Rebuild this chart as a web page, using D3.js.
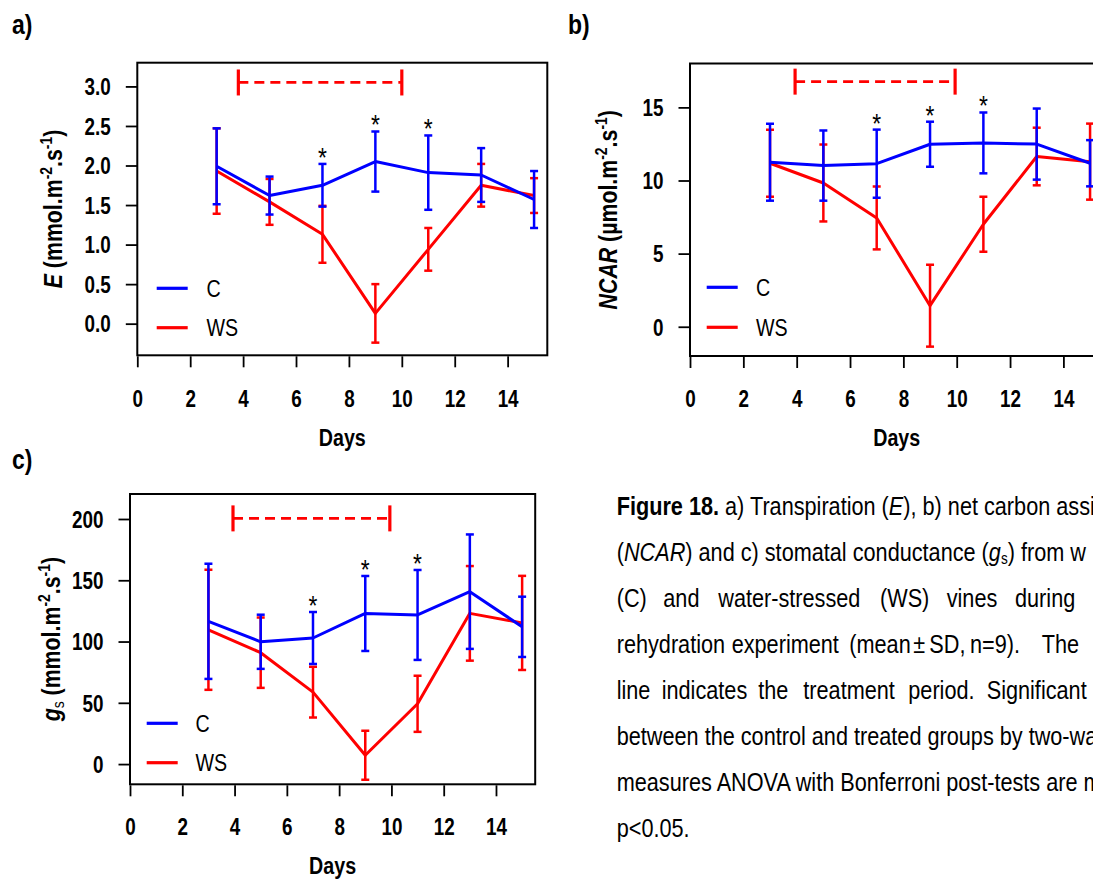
<!DOCTYPE html>
<html>
<head>
<meta charset="utf-8">
<script src="https://cdn.jsdelivr.net/npm/d3@7"></script>
<style>
  html, body { margin: 0; padding: 0; background: #fff; }
  svg { display: block; }
</style>
</head>
<body>
<svg id="chart" width="1093" height="880"></svg>
<script>
// ---------------- DATA ----------------
const days = [3, 5, 7, 9, 11, 13, 15];
const xTicks = [0, 2, 4, 6, 8, 10, 12, 14];
const seriesNames = ["C", "WS"];

// a) Transpiration E (mmol m-2 s-1)
const E_C_mean  = [1.99, 1.62, 1.75, 2.05, 1.91, 1.88, 1.57];
const E_C_sd    = [0.48, 0.24, 0.27, 0.38, 0.47, 0.34, 0.36];
const E_WS_mean = [1.93, 1.54, 1.13, 0.13, 0.94, 1.75, 1.62];
const E_WS_sd   = [0.54, 0.29, 0.36, 0.37, 0.27, 0.27, 0.22];
const E_ticks   = [0, 0.5, 1.0, 1.5, 2.0, 2.5, 3.0];
const E_sigDays = [7, 9, 11];
const E_treatment = [3.82, 10.0];
const E_treatmentLevel = 3.05;

// b) NCAR (µmol m-2 s-1)
const NCAR_C_mean  = [11.25, 11.02, 11.15, 12.48, 12.57, 12.49, 11.18];
const NCAR_C_sd    = [2.63, 2.40, 2.33, 1.54, 2.08, 2.43, 1.58];
const NCAR_WS_mean = [11.18, 9.83, 7.44, 1.44, 7.01, 11.64, 11.29];
const NCAR_WS_sd   = [2.29, 2.63, 2.15, 2.80, 1.88, 1.97, 2.60];
const NCAR_ticks   = [0, 5, 10, 15];
const NCAR_sigDays = [7, 9, 11];
const NCAR_treatment = [3.94, 9.94];
const NCAR_treatmentLevel = 16.76;

// c) gs (mmol m-2 s-1)
const gs_C_mean  = [116.5, 99.8, 102.9, 122.9, 121.7, 140.7, 112.0];
const gs_C_sd    = [47.0, 22.1, 21.2, 30.6, 36.7, 46.7, 24.6];
const gs_WS_mean = [109.6, 90.9, 58.7, 7.2, 49.2, 123.0, 115.2];
const gs_WS_sd   = [49.0, 28.7, 20.7, 20.0, 22.9, 38.6, 38.4];
const gs_ticks   = [0, 50, 100, 150, 200];
const gs_sigDays = [7, 9, 11];
const gs_treatment = [3.94, 9.94];
const gs_treatmentLevel = 200.5;

// ---------------- STYLE ----------------
const FONT = "'Liberation Sans Narrow','Arial Narrow','Liberation Sans',Arial,sans-serif";
const NARROW = 0.82;      // horizontal condensing to mimic Arial Narrow (charts)
const NARROW_CAP = 0.85;  // caption
const BLUE = "#0000ff";
const RED = "#ff0000";

const svg = d3.select("#chart");
const charts = svg.append("g");

function drawPanel(cfg) {
  const g = charts.append("g");
  const x = d3.scaleLinear().domain([0, 15.5]).range([cfg.x0, cfg.x1]);
  const y = d3.scaleLinear().domain(cfg.yDomain).range([cfg.yBot, cfg.yTop]);

  // box
  g.append("rect")
    .attr("x", cfg.x0).attr("y", cfg.yTop)
    .attr("width", cfg.x1 - cfg.x0).attr("height", cfg.yBot - cfg.yTop)
    .attr("fill", "none").attr("stroke", "#000").attr("stroke-width", 2);

  // y axis
  const yAxis = g.append("g")
    .attr("transform", `translate(${cfg.x0},0)`)
    .call(d3.axisLeft(y).tickValues(cfg.ticks).tickFormat(cfg.fmt).tickSize(11.5).tickPadding(15));
  yAxis.select(".domain").remove();
  yAxis.selectAll("line").attr("stroke", "#000").attr("stroke-width", 1.8);
  yAxis.selectAll("text").attr("font-family", FONT).attr("font-weight", "bold")
    .attr("font-size", 23).attr("fill", "#000").attr("dy", "0.36em");

  // x axis
  const xAxis = g.append("g")
    .attr("transform", `translate(0,${cfg.yBot + 1})`)
    .call(d3.axisBottom(x).tickValues(xTicks).tickFormat(d3.format("d")).tickSize(11).tickPadding(0));
  xAxis.select(".domain").remove();
  xAxis.selectAll("line").attr("stroke", "#000").attr("stroke-width", 1.8);
  xAxis.selectAll("text").attr("font-family", FONT).attr("font-weight", "bold")
    .attr("font-size", 23).attr("fill", "#000")
    .attr("dy", null).attr("y", cfg.xLabelBase - cfg.yBot - 1);

  // x title
  g.append("text").attr("x", (cfg.x0 + cfg.x1) / 2).attr("y", cfg.daysBase)
    .attr("text-anchor", "middle").attr("font-family", FONT).attr("font-weight", "bold")
    .attr("font-size", 24).text("Days");

  // y title
  const yt = g.append("text")
    .attr("transform", `translate(${cfg.titleX},${(cfg.yTop + cfg.yBot) / 2}) rotate(-90)`)
    .attr("text-anchor", "middle").attr("font-family", FONT).attr("font-weight", "bold")
    .attr("font-size", 26);
  cfg.title.forEach(p => {
    const t = yt.append("tspan").text(p.t);
    if (p.i) t.attr("font-style", "italic");
    if (p.sup) t.attr("font-size", 17).attr("baseline-shift", "55%");
    if (p.sub) t.attr("font-size", 17).attr("baseline-shift", "-25%").attr("font-weight", "normal");
  });

  // panel label
  g.append("text").attr("x", cfg.labX).attr("y", cfg.labY)
    .attr("font-family", FONT).attr("font-weight", "bold").attr("font-size", 28).text(cfg.label);

  // treatment bar
  const tb = g.append("g").attr("stroke", RED);
  const ty = y(cfg.treatLevel);
  tb.append("line").attr("x1", x(cfg.treat[0])).attr("x2", x(cfg.treat[1]))
    .attr("y1", ty).attr("y2", ty).attr("stroke-width", 2.8).attr("stroke-dasharray", "10,6");
  cfg.treat.forEach(d => {
    tb.append("line").attr("x1", x(d)).attr("x2", x(d))
      .attr("y1", ty - 13).attr("y2", ty + 13).attr("stroke-width", 3.2);
  });

  // series
  const series = [
    { name: "WS", mean: cfg.wsMean, sd: cfg.wsSd, color: RED },
    { name: "C", mean: cfg.cMean, sd: cfg.cSd, color: BLUE }
  ];
  const line = d3.line().x((d, i) => x(days[i])).y(d => y(d));
  series.forEach(s => {
    const eg = g.append("g").attr("stroke", s.color).attr("stroke-width", 2.5);
    days.forEach((d, i) => {
      const hi = y(s.mean[i] + s.sd[i]), lo = y(s.mean[i] - s.sd[i]);
      eg.append("line").attr("x1", x(d)).attr("x2", x(d)).attr("y1", hi).attr("y2", lo);
      eg.append("line").attr("x1", x(d) - 4).attr("x2", x(d) + 4).attr("y1", hi).attr("y2", hi);
      eg.append("line").attr("x1", x(d) - 4).attr("x2", x(d) + 4).attr("y1", lo).attr("y2", lo);
    });
    g.append("path").datum(s.mean).attr("d", line)
      .attr("fill", "none").attr("stroke", s.color).attr("stroke-width", 3)
      .attr("stroke-linejoin", "round");
  });

  // significance stars
  cfg.sig.forEach(d => {
    const i = days.indexOf(d);
    const top = y(cfg.cMean[i] + cfg.cSd[i]);
    g.append("text").attr("x", x(d)).attr("y", top - 13 + 16)
      .attr("text-anchor", "middle").attr("font-family", FONT).attr("font-size", 28)
      .text("*");
  });

  // legend
  const lg = g.append("g");
  [{ n: seriesNames[0], c: BLUE, y: cfg.legY[0] }, { n: seriesNames[1], c: RED, y: cfg.legY[1] }].forEach(it => {
    lg.append("line").attr("x1", cfg.legX[0]).attr("x2", cfg.legX[1]).attr("y1", it.y).attr("y2", it.y)
      .attr("stroke", it.c).attr("stroke-width", 3.2);
    lg.append("text").attr("x", cfg.legX[2]).attr("y", it.y).attr("dy", "0.36em")
      .attr("font-family", FONT).attr("font-size", 24).text(it.n);
  });
}

drawPanel({
  x0: 137.3, x1: 547.3, yTop: 62.7, yBot: 355.3, yDomain: [-0.4, 3.3],
  ticks: E_ticks, fmt: d3.format(".1f"),
  xLabelBase: 406.7, daysBase: 446,
  titleX: 61.5,
  title: [{ t: "E", i: true }, { t: " (mmol.m" }, { t: "-2", sup: true }, { t: ".s" }, { t: "-1", sup: true }, { t: ")" }],
  label: "a)", labX: 12, labY: 34,
  treat: E_treatment, treatLevel: E_treatmentLevel,
  cMean: E_C_mean, cSd: E_C_sd, wsMean: E_WS_mean, wsSd: E_WS_sd,
  sig: E_sigDays,
  legX: [156.7, 187.7, 206.5], legY: [288.3, 327.7]
});

drawPanel({
  x0: 690, x1: 1103.4, yTop: 63.5, yBot: 356, yDomain: [-2, 18],
  ticks: NCAR_ticks, fmt: d3.format("d"),
  xLabelBase: 406.7, daysBase: 446,
  titleX: 617,
  title: [{ t: "NCAR", i: true }, { t: " (µmol.m" }, { t: "-2", sup: true }, { t: ".s" }, { t: "-1", sup: true }, { t: ")" }],
  label: "b)", labX: 568, labY: 34,
  treat: NCAR_treatment, treatLevel: NCAR_treatmentLevel,
  cMean: NCAR_C_mean, cSd: NCAR_C_sd, wsMean: NCAR_WS_mean, wsSd: NCAR_WS_sd,
  sig: NCAR_sigDays,
  legX: [706.7, 737.7, 756], legY: [287.3, 327.3]
});

drawPanel({
  x0: 130, x1: 535.2, yTop: 494, yBot: 784.3, yDomain: [-16.5, 220.4],
  ticks: gs_ticks, fmt: d3.format("d"),
  xLabelBase: 835, daysBase: 874,
  titleX: 60,
  title: [{ t: "g", i: true }, { t: "s", sub: true }, { t: " (mmol.m" }, { t: "-2", sup: true }, { t: ".s" }, { t: "-1", sup: true }, { t: ")" }],
  label: "c)", labX: 12, labY: 469,
  treat: gs_treatment, treatLevel: gs_treatmentLevel,
  cMean: gs_C_mean, cSd: gs_C_sd, wsMean: gs_WS_mean, wsSd: gs_WS_sd,
  sig: gs_sigDays,
  legX: [146.7, 177.7, 195.5], legY: [723.3, 762.7]
});

// ---------------- CAPTION ----------------
const capX = 616.7, capY0 = 515, capDY = 46;
const cap = svg.append("g").attr("font-family", FONT).attr("font-size", 25.5).attr("fill", "#000");

function capLine(row, parts) {
  const t = cap.append("text").attr("x", capX).attr("y", capY0 + row * capDY);
  parts.forEach(p => {
    const s = t.append("tspan").text(p.t);
    if (p.b) s.attr("font-weight", "bold");
    if (p.i) s.attr("font-style", "italic");
    if (p.sub) s.attr("font-size", 16).attr("baseline-shift", "-20%");
  });
}
function capJustified(row, words, xs) {
  words.forEach((w, i) => {
    cap.append("text").attr("x", xs[i]).attr("y", capY0 + row * capDY).text(w);
  });
}

capLine(0, [{ t: "Figure 18.", b: true }, { t: " a) Transpiration (" }, { t: "E", i: true }, { t: "), b) net carbon assi" }]);
capLine(1, [{ t: "(" }, { t: "NCAR", i: true }, { t: ") and c) stomatal conductance (" }, { t: "g", i: true }, { t: "s", sub: true }, { t: ") from w" }]);
capJustified(2, ["(C)", "and", "water-stressed", "(WS)", "vines", "during"],
  [616.7, 663.3, 718.3, 880, 946.7, 1015]);
capJustified(3, ["rehydration", "experiment", "(mean", "±", "SD,", "n=9).", "The"],
  [616.7, 731.7, 849.3, 913.3, 929.3, 970, 1041.7]);
capJustified(4, ["line", "indicates", "the", "treatment", "period.", "Significant"],
  [616.7, 661.7, 758.3, 803.3, 908.3, 986.7]);
capLine(5, [{ t: "between the control and treated groups by two-wa" }]);
capLine(6, [{ t: "measures ANOVA with Bonferroni post-tests are m" }]);
capLine(7, [{ t: "p<0.05." }]);

// condense texts horizontally about their anchor (Arial Narrow look)
function condense(sel, k) {
  sel.each(function () {
    const ax = +(this.getAttribute("x") || 0);
    const prev = this.getAttribute("transform") || "";
    this.setAttribute("transform",
      `${prev} translate(${ax},0) scale(${k},1) translate(${-ax},0)`.trim());
  });
}
condense(charts.selectAll("text"), NARROW);
condense(cap.selectAll("text"), NARROW_CAP);
</script>
</body>
</html>
